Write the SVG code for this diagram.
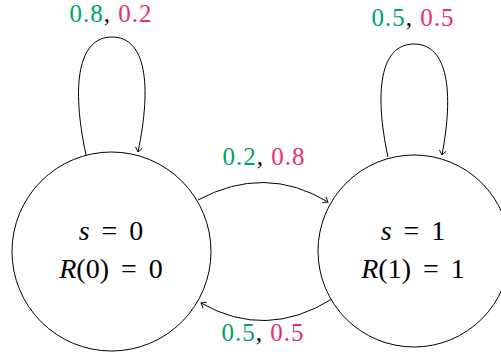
<svg xmlns="http://www.w3.org/2000/svg" width="501" height="354" viewBox="0 0 501 354">
<style>
.node{fill:#fff;stroke:#000;stroke-width:1}
.edge{fill:none;stroke:#000;stroke-width:1;marker-end:url(#arr)}
.math{font-size:28px;text-anchor:middle;fill:#000;word-spacing:5px}
.lab{font-size:25px;text-anchor:middle;fill:#000;letter-spacing:1px}
.g{fill:#00a364}
.p{fill:#ec2d6c}
</style>
<defs>
<marker id="arr" markerWidth="10" markerHeight="10" viewBox="-6 -5 8 10" refX="0" refY="0" orient="auto" markerUnits="userSpaceOnUse">
<path d="M-4.5,-3.5 Q-1.2,-0.8 0,0 Q-1.2,0.8 -4.5,3.5" fill="none" stroke="#000" stroke-width="0.9"/>
</marker>
</defs>
<g id="edges">
<path class="edge" d="M86,155 C71,85 78,37 112,37 C146,37 152,85 138,152"/>
<path class="edge" d="M388,157 C374,92 380,44 414,44 C448,44 454,92 442,155"/>
<path class="edge" d="M198,200 Q265,164 328,202"/>
<path class="edge" d="M332,299 Q266,340 201,303"/>
</g>
<g id="s0" font-family="Liberation Serif, DejaVu Serif, serif">
<circle class="node" cx="111.5" cy="251.5" r="99.5"/>
<text class="math" x="111" y="240"><tspan font-style="italic">s</tspan> = 0</text>
<text class="math" x="111" y="278"><tspan font-style="italic">R</tspan>(0) = 0</text>
</g>
<g id="s1" font-family="Liberation Serif, DejaVu Serif, serif">
<circle class="node" cx="414" cy="251" r="96"/>
<text class="math" x="413" y="240"><tspan font-style="italic">s</tspan> = 1</text>
<text class="math" x="413" y="278"><tspan font-style="italic">R</tspan>(1) = 1</text>
</g>
<g id="labels" font-family="Liberation Serif, DejaVu Serif, serif">
<text class="lab" x="111" y="22"><tspan class="g">0.8</tspan>, <tspan class="p">0.2</tspan></text>
<text class="lab" x="413" y="26"><tspan class="g">0.5</tspan>, <tspan class="p">0.5</tspan></text>
<text class="lab" x="264" y="165"><tspan class="g">0.2</tspan>, <tspan class="p">0.8</tspan></text>
<text class="lab" x="263" y="341"><tspan class="g">0.5</tspan>, <tspan class="p">0.5</tspan></text>
</g>
</svg>
